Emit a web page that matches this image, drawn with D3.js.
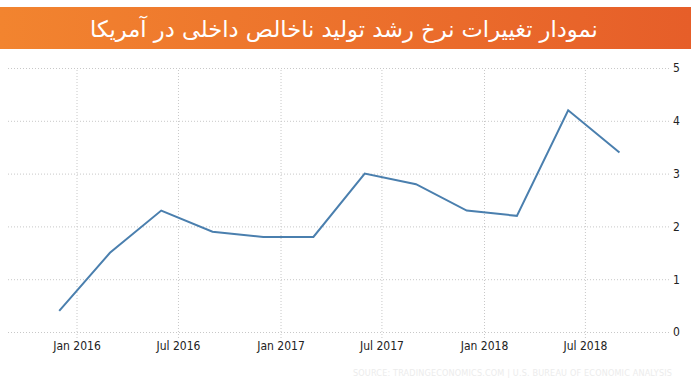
<!DOCTYPE html>
<html><head><meta charset="utf-8">
<script src="https://cdn.jsdelivr.net/npm/d3@7"></script>
<style>
html,body{margin:0;padding:0;background:#fff;}
svg{display:block;}
</style></head>
<body>
<script>
const title = "نمودار تغییرات نرخ رشد تولید ناخالص داخلی در آمریکا";
const source = "SOURCE: TRADINGECONOMICS.COM | U.S. BUREAU OF ECONOMIC ANALYSIS";
const dates = ["2015-12-01","2016-03-01","2016-06-01","2016-09-01","2016-12-01","2017-03-01","2017-06-01","2017-09-01","2017-12-01","2018-03-01","2018-06-01","2018-09-01"];
const values = [0.4, 1.5, 2.3, 1.9, 1.8, 1.8, 3.0, 2.8, 2.3, 2.2, 4.2, 3.4];
const xTicks = ["2016-01-01","2016-07-01","2017-01-01","2017-07-01","2018-01-01","2018-07-01"];
const yTicks = [0, 1, 2, 3, 4, 5];

const W = 691, H = 382;
const parse = d3.utcParse("%Y-%m-%d");
const fmt = d3.utcFormat("%b %Y");

const svg = d3.select("body").append("svg").attr("width", W).attr("height", H);

// header
const defs = svg.append("defs");
const g = defs.append("linearGradient").attr("id","hdr").attr("x1","0%").attr("x2","100%");
g.append("stop").attr("offset","0%").attr("stop-color","#f2842f");
g.append("stop").attr("offset","100%").attr("stop-color","#e65e29");
svg.append("rect").attr("x",0).attr("y",7).attr("width",W).attr("height",42).attr("fill","url(#hdr)");
const t = svg.append("text").attr("x",344).attr("y",37).attr("text-anchor","middle")
  .attr("fill","#fff").style("font-family","'DejaVu Sans'").style("font-size","26px")
  .attr("direction","rtl").text(title);
const tl = t.node().getComputedTextLength();
if (tl > 0) t.style("font-size", (26*508/tl).toFixed(2)+"px");

const x = d3.scaleUtc().domain([parse("2016-01-01"), parse("2018-01-01")]).range([76.5, 484]);
const y = d3.scaleLinear().domain([0,5]).range([332, 68]);

const font = "'DejaVu Sans Condensed','DejaVu Sans',sans-serif";

// y axis (horizontal grid)
const ya = svg.append("g").attr("transform","translate(8,0)")
  .call(d3.axisRight(y).tickValues(yTicks).tickSize(661).tickPadding(4).tickFormat(d3.format("d")));
ya.select(".domain").remove();
ya.selectAll(".tick line").attr("stroke","#c8c8c8").attr("stroke-dasharray","1,2");
ya.selectAll(".tick text").attr("fill","#222").style("font-family",font).style("font-size","12px");

// x axis (vertical grid)
const xa = svg.append("g").attr("transform","translate(0,338)")
  .call(d3.axisBottom(x).tickValues(xTicks.map(parse)).tickSize(-270).tickPadding(3).tickFormat(fmt));
xa.select(".domain").remove();
xa.selectAll(".tick line").attr("stroke","#c8c8c8").attr("stroke-dasharray","1,2");
xa.selectAll(".tick text").attr("fill","#222").style("font-family",font).style("font-size","12px");

// line
const line = d3.line().x((d,i)=>x(parse(dates[i]))).y(d=>y(d));
svg.append("path").datum(values).attr("d",line).attr("fill","none")
  .attr("stroke","#4a7fae").attr("stroke-width",2).attr("stroke-linejoin","miter");

// source
svg.append("text").attr("x",353).attr("y",376).attr("fill","#ececec")
  .style("font-family",font).style("font-size","9px")
  .attr("textLength",319).attr("lengthAdjust","spacing").text(source);
</script>
</body></html>
